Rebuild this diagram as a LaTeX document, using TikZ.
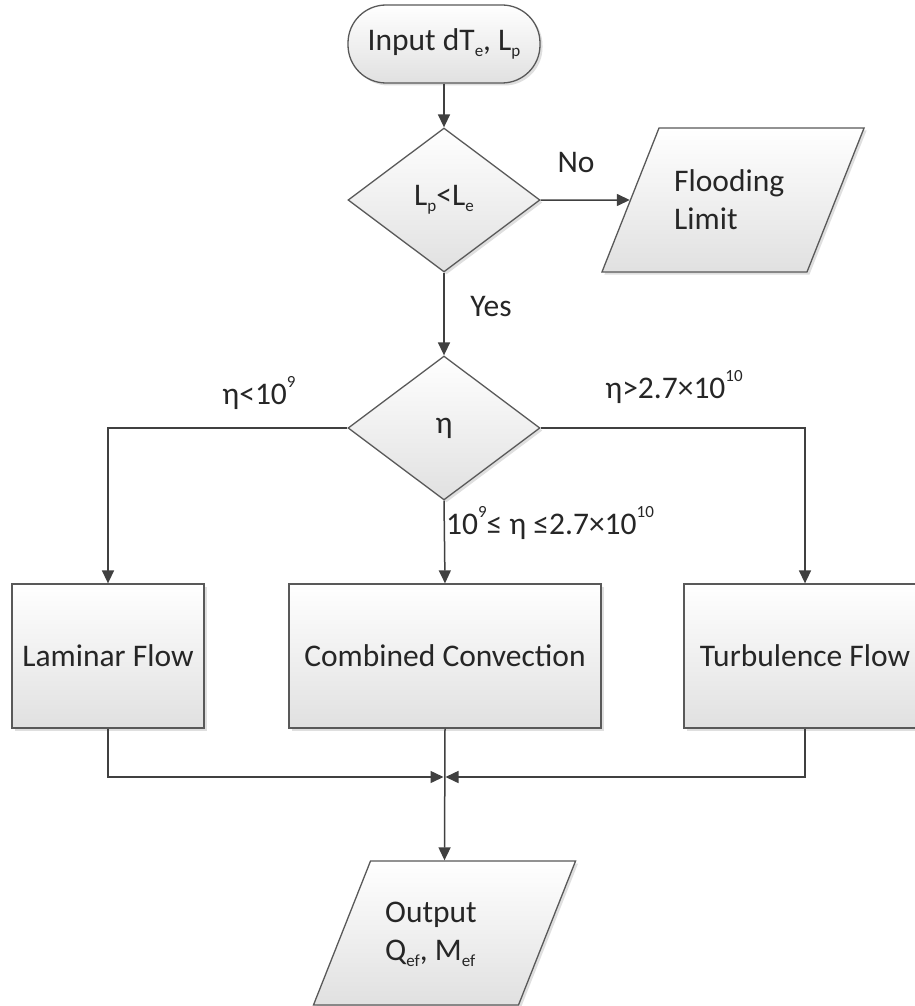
\documentclass[tikz,border=0pt]{standalone}
\usepackage{fontspec}
\setmainfont{Carlito}
\usetikzlibrary{arrows.meta,shapes.geometric,shadows}
\newcommand{\sps}[1]{\raisebox{0.55em}{\fontsize{17}{17}\selectfont #1}}
\newcommand{\sbs}[1]{\raisebox{-0.2em}{\fontsize{17}{17}\selectfont #1}}
\begin{document}
\begin{tikzpicture}[x=1pt,y=-1pt,
  txt/.style={font=\fontsize{31.5}{38}\selectfont, text=black!85},
  shp/.style={txt, draw=black!65, line width=1.3pt, top color=white, bottom color=black!12,
    drop shadow={shadow xshift=2.5pt,shadow yshift=-2.5pt,opacity=0.25}, inner sep=0pt},
  boxshp/.style={shp, rectangle, minimum height=144pt},
  dia/.style={shp, diamond, minimum width=192pt, minimum height=144pt},
  para/.style={shp, trapezium, trapezium left angle=62.8, trapezium right angle=117.2,
    trapezium stretches=true, minimum width=263pt, minimum height=144pt},
  conn/.style={draw=black!75, line width=1.5pt, -{Triangle[length=13pt,width=12pt]}},
  lbl/.style={txt, inner sep=0pt}
]
\clip (0,0) rectangle (915,1006);
\fill[white] (0,0) rectangle (915,1006);

\node[shp, rectangle, rounded corners=38pt, minimum width=192pt, minimum height=78pt] (start) at (444,44)
  {Input dT\sbs{e}, L\sbs{p}};
\node[dia] (d1) at (444,200) {L\sbs{p}<L\sbs{e}};
\node[para] (flood) at (733,200) {\phantom{M}};
\node[lbl, anchor=west, align=left] (floodtxt) at (674,200) {Flooding\\Limit};
\node[dia] (d2) at (444,428) {η};
\node[boxshp, minimum width=192pt] (lam) at (108,656) {Laminar Flow};
\node[boxshp, minimum width=312pt] (comb) at (445,656) {Combined Convection};
\node[boxshp, minimum width=242pt] (turb) at (805,656) {Turbulence Flow};
\node[para] (out) at (444.5,933) {\phantom{M}};
\node[lbl, anchor=west, align=left] (outtxt) at (385,934) {Output\\Q\sbs{ef}, M\sbs{ef}};

\coordinate (merge) at (444.5,777);

\draw[conn] (start.south) -- (d1.north);
\draw[conn] (d1.east) -- (flood.west);
\draw[conn] (d1.south) -- (d2.north);
\draw[conn] (d2.west) -| (lam.north);
\draw[conn] (d2.east) -| (turb.north);
\draw[conn] (d2.south) -- (comb.north);
\draw[conn, shorten >=1pt] (lam.south) |- (merge);
\draw[conn, shorten >=1pt] (turb.south) |- (merge);
\draw[conn] (comb.south) -- (out.north);

\node[lbl] (lno) at (576,163) {No};
\node[lbl] (lyes) at (491,307) {Yes};
\node[lbl] (llow) at (259,393) {η<10\sps{9}};
\node[lbl] (lhigh) at (674,387) {η>2.7×10\sps{10}};
\node[lbl] (lmid) at (550,523) {10\sps{9}≤ η ≤2.7×10\sps{10}};
\end{tikzpicture}
\end{document}
